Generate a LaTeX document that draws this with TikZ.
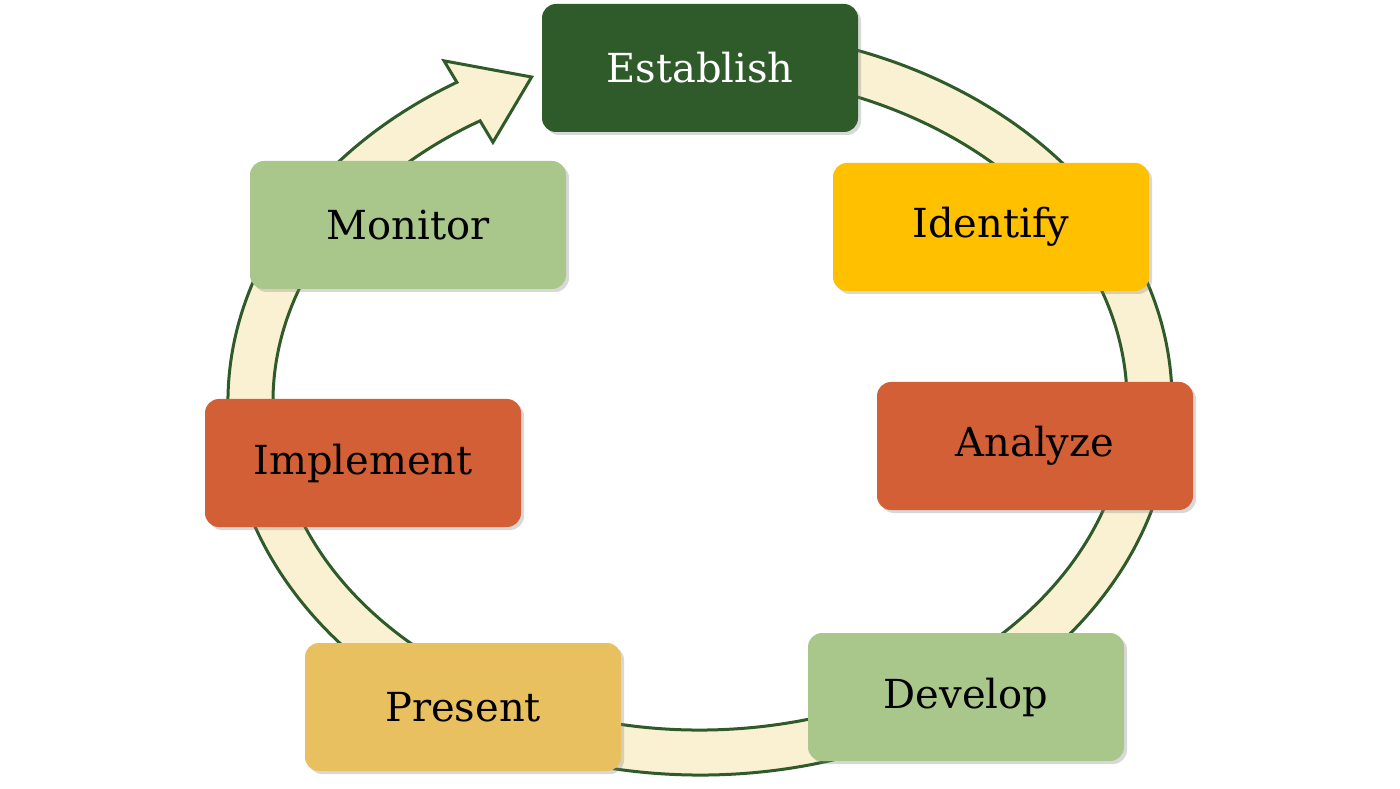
\documentclass[tikz,border=0pt]{standalone}
\usepackage{fontspec}
\setmainfont{DejaVu Serif}
\usetikzlibrary{shadows}
\definecolor{dg}{HTML}{2F5A2A}
\definecolor{ring}{HTML}{FAF0D2}
\definecolor{yel}{HTML}{FFC000}
\definecolor{org}{HTML}{D35F37}
\definecolor{lg}{HTML}{A9C78A}
\definecolor{gold}{HTML}{E8C060}
\begin{document}
\begin{tikzpicture}[x=1pt,y=1pt,
  box/.style={rounded corners=14pt,minimum width=316pt,minimum height=128pt,
    drop shadow={shadow xshift=3pt,shadow yshift=-3pt,opacity=0.3},
    font=\fontsize{40}{44}\selectfont,text=black}]
\useasboundingbox[fill=white] (0,0) rectangle (1400,788);
\def\cx{700}\def\cy{386}
\def\ro{472}\def\so{373}\def\ri{427}\def\si{328}
\def\b{121}\def\t{112}
\filldraw[fill=ring,draw=dg,line width=3pt]
 ({\cx+\ro*cos(\b)},{\cy+\so*sin(\b)})
 arc[start angle=\b,end angle=460,x radius=\ro,y radius=\so]
 -- ({\cx+\ri*cos(460)},{\cy+\si*sin(460)})
 arc[start angle=460,end angle=\b,x radius=\ri,y radius=\si]
 -- ({\cx+(\ri-25)*cos(\b)},{\cy+(\si-25)*sin(\b)})
 -- ({\cx+449.5*cos(\t)},{\cy+350.5*sin(\t)})
 -- ({\cx+(\ro+25)*cos(\b)},{\cy+(\so+25)*sin(\b)})
 -- cycle;
\node[box,fill=dg,text=white] (est) at (700,720) {Establish};
\node[box,fill=yel] (ide) at (991,561) {Identify};
\node[box,fill=org] (ana) at (1035,342) {Analyze};
\node[box,fill=lg] (dev) at (966,91) {Develop};
\node[box,fill=gold] (pre) at (463,81) {Present};
\node[box,fill=org] (imp) at (363,325) {Implement};
\node[box,fill=lg] (mon) at (408,563) {Monitor};
\end{tikzpicture}
\end{document}
